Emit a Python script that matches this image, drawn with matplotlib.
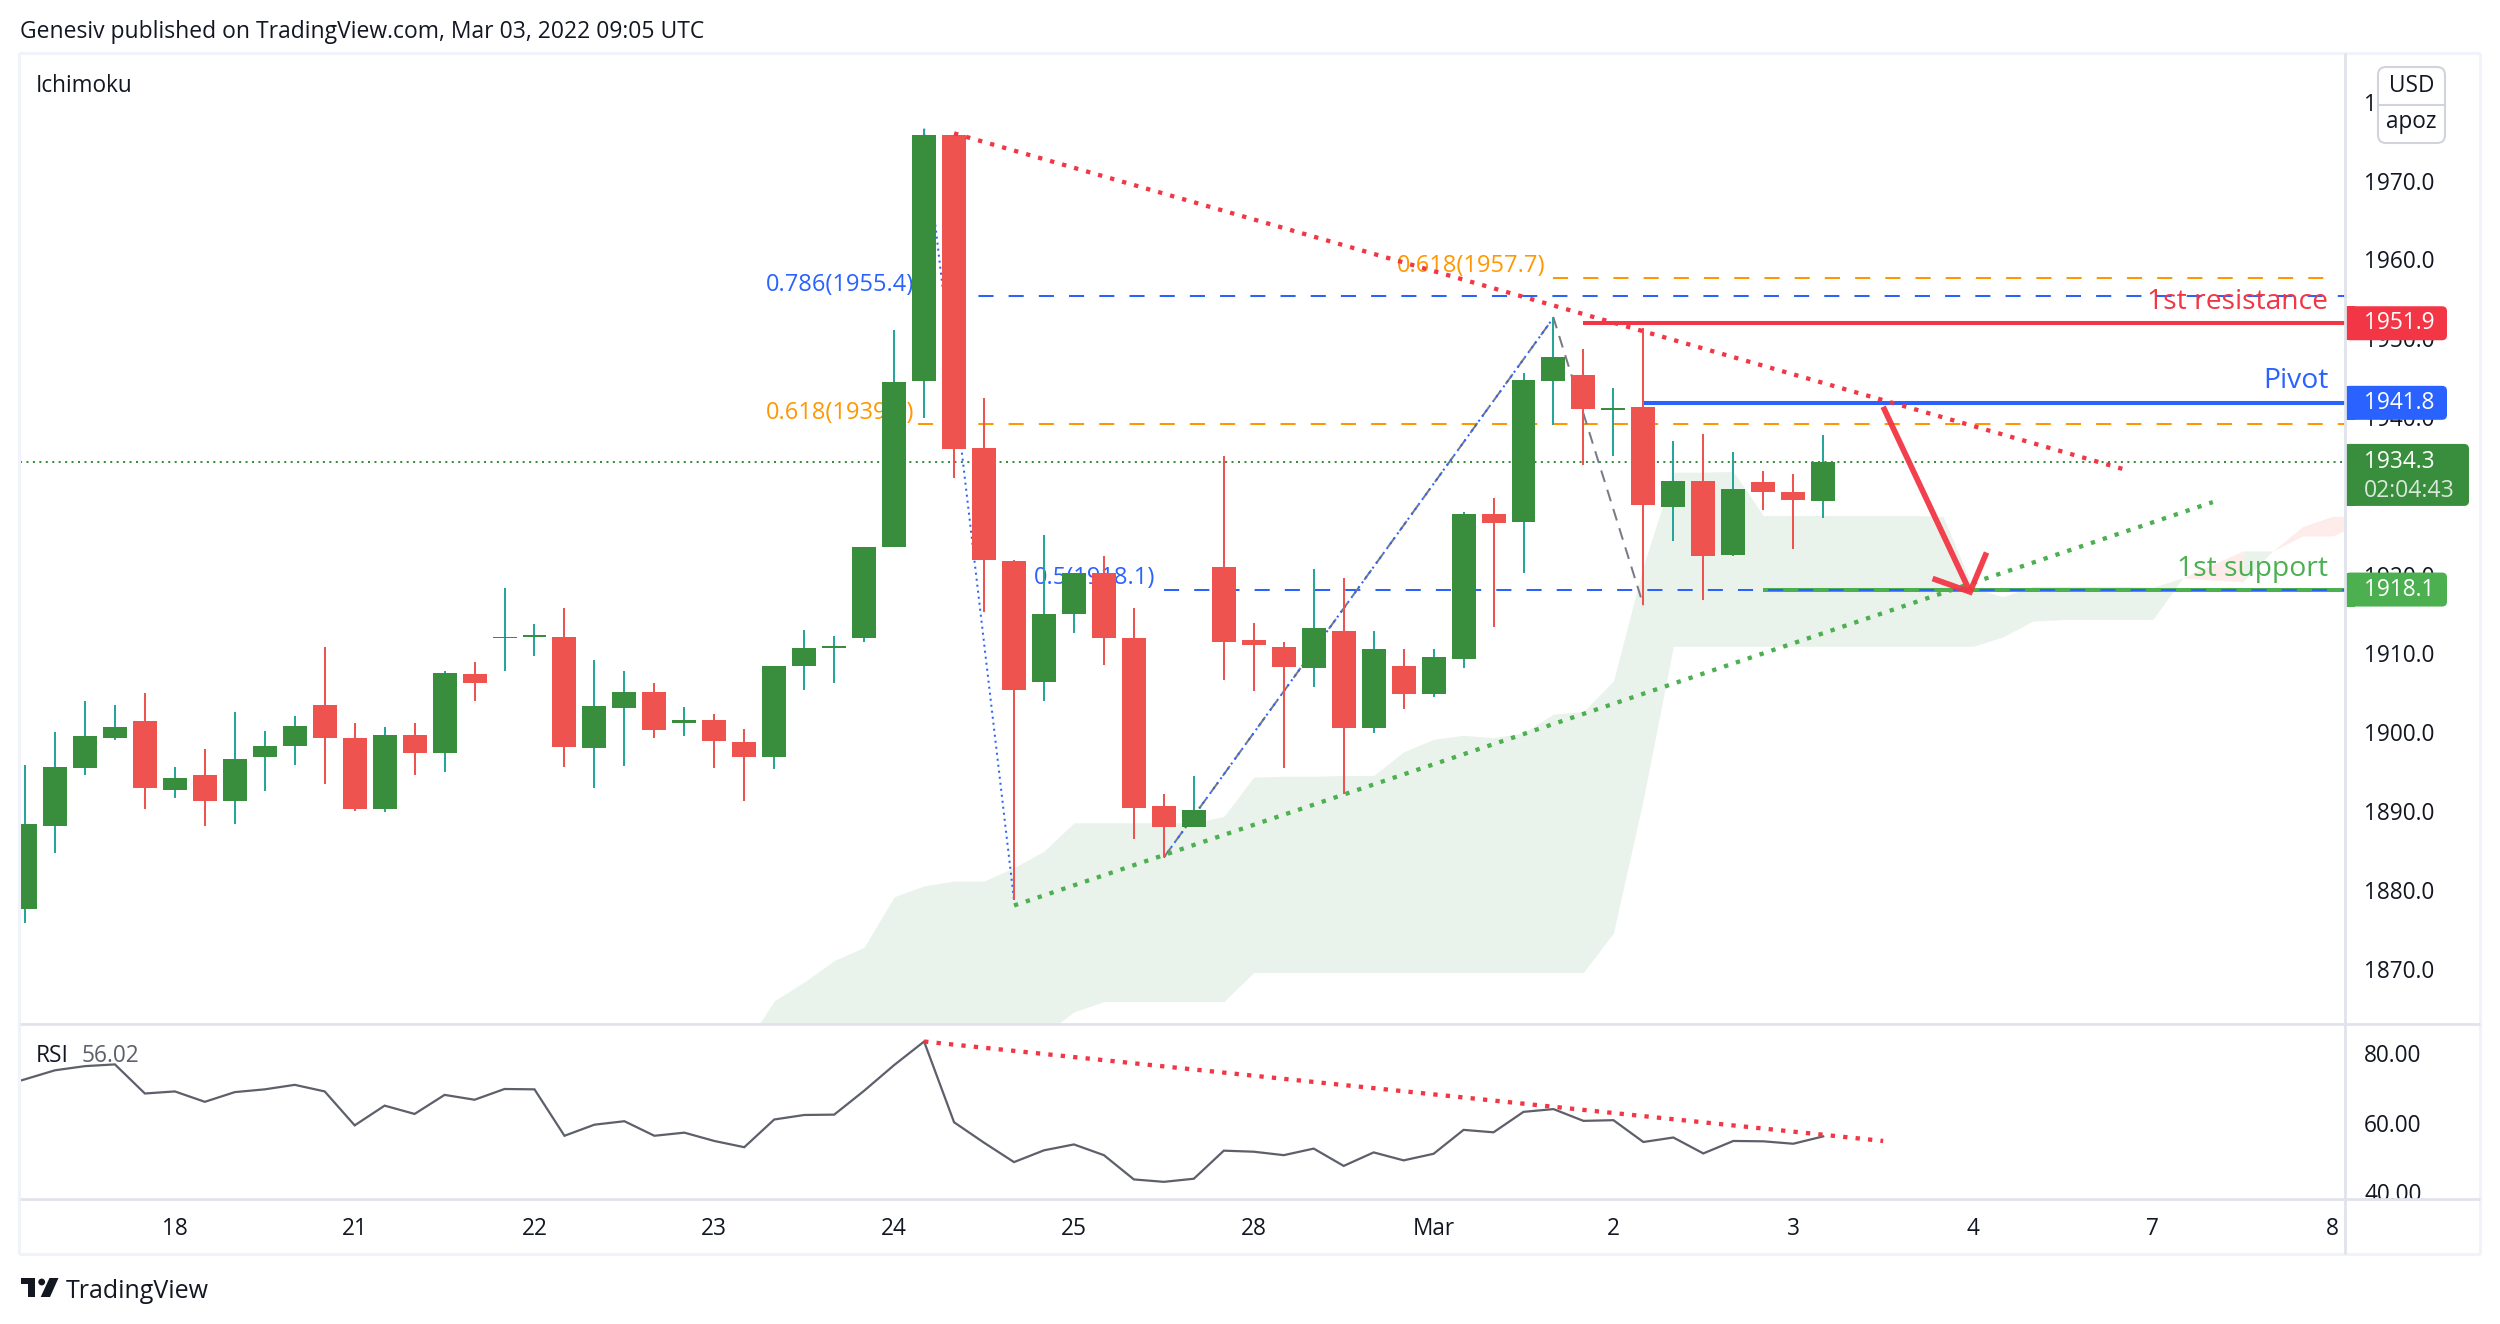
import matplotlib
matplotlib.use("Agg")
import matplotlib.pyplot as plt
from matplotlib.patches import FancyBboxPatch, Rectangle, Polygon, Circle
from matplotlib.transforms import Bbox

plt.rcParams['font.family'] = ['Open Sans', 'DejaVu Sans']

# ---------- data ----------
opens  = [1877.5,1888.1,1895.4,1899.3,1901.4,1892.6,1894.5,1891.2,1896.8,1898.2,1903.5,1899.3,1890.2,1899.7,1897.4,1907.4,
          1911.9,1912.1,1912.1,1898.0,1903.1,1905.1,1901.1,1901.5,1898.8,1896.8,1908.4,1910.7,1911.9,1923.5,1944.6,1975.8,
          1936.1,1921.7,1906.4,1915.0,1920.2,1912.0,1890.6,1887.9,1920.9,1911.7,1910.8,1908.2,1912.9,1900.5,1908.4,1904.8,
          1909.3,1927.7,1926.7,1944.6,1945.3,1940.9,1941.3,1928.6,1931.9,1922.5,1931.8,1930.5,1929.4]
closes = [1888.3,1895.6,1899.5,1900.7,1892.9,1894.2,1891.2,1896.6,1898.2,1900.8,1899.2,1890.3,1899.7,1897.4,1907.5,1906.2,
          1912.1,1912.3,1898.1,1903.3,1905.1,1900.3,1901.5,1898.9,1896.8,1908.4,1910.7,1910.9,1923.5,1944.5,1975.8,1936.0,
          1921.8,1905.3,1915.0,1920.2,1911.9,1890.4,1887.9,1890.1,1911.5,1911.0,1908.3,1913.2,1900.5,1910.6,1904.8,1909.6,
          1927.7,1926.6,1944.7,1947.6,1941.0,1941.1,1928.8,1931.9,1922.4,1930.8,1930.5,1929.5,1934.3]
highs  = [1895.8,1900.0,1904.0,1903.5,1905.0,1895.6,1897.9,1902.6,1900.2,1902.0,1910.8,1901.1,1900.7,1901.1,1907.8,1908.9,
          1918.3,1913.7,1915.8,1909.2,1907.7,1906.3,1903.2,1902.3,1900.4,1908.4,1913.0,1912.2,1923.5,1951.0,1976.6,1975.8,
          1942.4,1921.9,1925.0,1920.2,1922.3,1915.8,1892.2,1894.4,1935.1,1913.9,1911.5,1920.7,1919.6,1912.9,1910.6,1910.6,
          1927.9,1929.7,1945.6,1952.6,1948.6,1943.7,1951.3,1937.0,1937.9,1935.5,1933.2,1932.8,1937.7]
lows   = [1875.8,1884.6,1894.5,1899.0,1890.3,1891.6,1888.1,1888.4,1892.5,1895.8,1893.4,1890.0,1889.9,1894.5,1895.0,1904.0,
          1907.7,1909.7,1895.6,1892.9,1895.7,1899.3,1899.5,1895.4,1891.2,1895.3,1905.3,1906.3,1911.4,1923.5,1939.9,1932.3,
          1915.3,1878.7,1904.0,1912.6,1908.5,1886.4,1884.1,1887.9,1906.6,1905.2,1895.4,1905.7,1892.2,1899.9,1902.9,1904.5,
          1908.1,1913.3,1920.2,1939.0,1933.9,1935.0,1916.1,1924.2,1916.8,1922.3,1928.2,1923.2,1927.2]

# first value belongs to the bar just left of the pane
rsi_values = [70.0,72.5,75.1,76.3,76.8,68.4,69.0,66.0,68.8,69.6,70.9,69.0,59.2,64.9,62.5,68.0,66.6,69.7,69.6,56.2,59.4,60.4,56.2,
              57.1,54.7,52.9,60.9,62.2,62.3,69.2,76.6,83.4,60.1,54.2,48.6,52.0,53.7,50.6,43.6,42.9,43.8,51.9,51.6,50.6,52.5,
              47.5,51.4,49.1,51.0,57.9,57.2,63.1,63.9,60.5,60.7,54.4,55.7,51.1,54.7,54.6,53.9,56.02]

cloud_start = 24
cloud_upper = [1860.0,1865.9,1868.3,1871.0,1872.7,1879.1,1880.5,1881.1,1881.1,1882.8,1884.9,1888.5,1888.5,1888.5,1888.5,1888.5,
               1889.3,1894.3,1894.4,1894.4,1894.5,1894.5,1897.5,1899.1,1899.6,1899.3,1899.9,1902.3,1902.6,1906.5,1921.1,1933.0,
               1933.0,1933.1,1927.5,1927.5,1927.5,1927.5,1927.5,1927.5,1927.4,1918.3,1917.2,1918.5,1918.5,1918.5,1918.5,1918.4,
               1919.6,1921.3,1923.0,1923.0,1926.1,1927.4,1927.4]
cloud_lower = [1855.0,1856.0,1857.0,1857.5,1858.0,1858.0,1858.0,1859.0,1859.0,1860.0,1861.6,1864.5,1865.8,1865.8,1865.8,1865.8,
               1865.8,1869.5,1869.5,1869.5,1869.5,1869.5,1869.5,1869.5,1869.5,1869.5,1869.5,1869.5,1869.5,1874.5,1891.5,1910.9,
               1910.9,1910.9,1910.9,1910.9,1910.9,1910.9,1910.9,1910.9,1910.9,1910.9,1912.1,1914.1,1914.3,1914.3,1914.3,1914.3,
               1919.6,1919.3,1919.1,1923.0,1924.9,1924.9,1926.6]
cloud_runs = [(24, 72, '#eaf3eb'), (72, 74, '#feecea'), (74, 75, '#eaf3eb'), (75, 78, '#feecea')]

x_tick_pos    = [5, 11, 17, 23, 29, 35, 41, 47, 53, 59, 65, 71, 77]
x_tick_labels = ['18', '21', '22', '23', '24', '25', '28', 'Mar', '2', '3', '4', '7', '8']
price_ticks = [1870, 1880, 1890, 1900, 1910, 1920, 1930, 1940, 1950, 1960, 1970, 1980]
rsi_ticks = [40, 60, 80]

resistance_x, resistance_y = [31, 70], [1976.0, 1933.4]
support_x, support_y = [33, 73], [1878.0, 1929.2]
rsi_trend_x, rsi_trend_y = [30, 62], [83.4, 54.7]
fib1_x, fib1_y = [30, 33], [1976.6, 1878.7]
fib2_x, fib2_y = [38, 51, 54], [1884.1, 1952.6, 1916.1]
arrow_x, arrow_y = [62.0, 64.9], [1941.3, 1917.8]
head_x, head_y = [63.65, 64.9, 65.45], [1919.5, 1917.8, 1922.8]

last_price = 1934.3
level_r, level_p, level_s = 1951.9, 1941.8, 1918.1
fib_786, fib_618a, fib_618b, fib_5 = 1955.4, 1939.1, 1957.7, 1918.1

# ---------- colours ----------
UP, DOWN, WICK_UP = '#388e3c', '#ef5350', '#26a69a'
RED, BLUE, GREEN, ORANGE = '#f23645', '#2962ff', '#4caf50', '#ff9800'
INK, GRID = '#131722', '#e0e3eb'
FS = 16.3

W, H = 2500, 1324
fig = plt.figure(figsize=(W / 100, H / 100), dpi=100, facecolor='white')

def pane(x0, y0, x1, y1):
    return fig.add_axes([x0 / W, 1 - y1 / H, (x1 - x0) / W, (y1 - y0) / H])

PX0, PX1 = 20, 2345
main = pane(PX0, 53, PX1, 1024)
rsi = pane(PX0, 1024, PX1, 1199)
xlim = ((PX0 - 25) / 29.97, (PX1 - 25) / 29.97)
for a in (main, rsi):
    a.set_xlim(xlim)
    for s in a.spines.values():
        s.set_visible(False)
    a.yaxis.tick_right()
    a.tick_params(axis='y', length=0, pad=13.7, labelsize=FS, labelcolor=INK)
main.set_ylim(1862.96, 1986.2)
rsi.set_ylim(37.95, 88.46)

main.set_xticks([])
main.set_yticks(price_ticks)
main.set_yticklabels([f'{v:.1f}' for v in price_ticks])
rsi.set_xticks(x_tick_pos)
rsi.set_xticklabels(x_tick_labels)
rsi.tick_params(axis='x', length=0, pad=13, labelsize=FS, labelcolor=INK)
rsi.set_yticks(rsi_ticks)
rsi.set_yticklabels([f'{v:.2f}' for v in rsi_ticks])

# cloud, one polygon per colour run so no seams show
for b0, b1, c in cloud_runs:
    k0, k1 = b0 - cloud_start, b1 - cloud_start + 1
    main.fill_between(range(b0, b1 + 1), cloud_lower[k0:k1], cloud_upper[k0:k1], color=c, lw=0, zorder=1)

END = xlim[1]
# solid levels
main.hlines(level_r, 52, END, color=RED, lw=2.9, zorder=1.8)
main.hlines(level_p, 54, END, color=BLUE, lw=2.9, zorder=1.8)
main.hlines(level_s, 58, END, color=GREEN, lw=2.9, zorder=1.8)

# fib levels
dash = (0, (7.5, 7.5))
main.plot([29.8, END], [fib_786] * 2, color=BLUE, lw=1.45, ls=dash, zorder=2)
main.plot([29.8, END], [fib_618a] * 2, color=ORANGE, lw=1.45, ls=dash, zorder=2)
main.plot([51, 77], [fib_618b] * 2, color=ORANGE, lw=1.45, ls=dash, zorder=2)
main.plot([38, END], [fib_5] * 2, color=BLUE, lw=1.45, ls=dash, zorder=2)
main.plot([xlim[0], END], [last_price] * 2, color=UP, lw=1.45, ls=(0, (1, 2.2)), zorder=2)

def lab(text, i, v, color):
    main.annotate(text, xy=(i, v), xytext=(-6, 8), textcoords='offset points',
                  ha='right', va='center', color=color, fontsize=17, zorder=2.2)
lab('0.786(1955.4)', 29.95, fib_786, BLUE)
lab('0.618(1939.1)', 29.95, fib_618a, ORANGE)
lab('0.618(1957.7)', 51, fib_618b, ORANGE)
lab('0.5(1918.1)', 38, fib_5, BLUE)

# fib guides, under the candles
main.plot(fib1_x, fib1_y, color=BLUE, lw=1.45, ls=(0, (1, 2)), zorder=2)
main.plot(fib2_x, fib2_y, color='#787b86', lw=1.45, ls=(0, (6, 4)), zorder=2)
main.plot(fib2_x[:2], fib2_y[:2], color=BLUE, lw=1.45, ls=(0, (1, 2)), zorder=2.1)

# candles
xs = list(range(len(opens)))
for i in xs:
    up = closes[i] >= opens[i]
    main.vlines(i, lows[i], highs[i], color=WICK_UP if up else DOWN, lw=1.45, zorder=3)
    main.bar(i, abs(closes[i] - opens[i]), bottom=min(opens[i], closes[i]), width=0.8,
             color=UP if up else DOWN, lw=0, zorder=3.1)

# drawings
main.plot(resistance_x, resistance_y, color=RED, lw=3.1, ls=(0, (1, 1.9)), zorder=4)
main.plot(support_x, support_y, color=GREEN, lw=3.1, ls=(0, (1, 1.9)), zorder=4)
main.plot(arrow_x, arrow_y, color=RED, lw=4.1, zorder=5, solid_capstyle='butt', alpha=0.95)
main.plot(head_x, head_y, color=RED, lw=4.1, zorder=5, solid_joinstyle='miter', solid_capstyle='butt', alpha=0.95)

# right-hand text labels
main.annotate('1st resistance', xy=(END, level_r), xytext=(-12, 15.5), textcoords='offset points', ha='right', va='center',
              color=RED, fontsize=20.3, zorder=6)
main.annotate('Pivot', xy=(END, level_p), xytext=(-12, 16), textcoords='offset points', ha='right', va='center',
              color=BLUE, fontsize=20.3, zorder=6)
main.annotate('1st support', xy=(END, level_s), xytext=(-12, 15), textcoords='offset points', ha='right', va='center',
              color=GREEN, fontsize=20.3, zorder=6)

# RSI
rsi.plot(range(-1, len(rsi_values) - 1), rsi_values, color='#5d606b', lw=1.6, zorder=3, solid_joinstyle='miter')
rsi.plot(rsi_trend_x, rsi_trend_y, color=RED, lw=3.1, ls=(0, (1, 1.9)), zorder=4)

# cut the bottom RSI label at the pane edge
fig.canvas.draw()
for t in rsi.get_yticklabels():
    if t.get_text() == '40.00':
        t.set_clip_box(Bbox([[2345, H - 1199], [2480, H - 1024]]))
        t.set_clip_on(True)

# overlay in pixel coordinates
ov = fig.add_axes([0, 0, 1, 1], zorder=10)
ov.set_xlim(0, W)
ov.set_ylim(H, 0)
ov.axis('off')
ov.patch.set_visible(False)

def ypx(v):
    return H - main.transData.transform((0, v))[1]

# frame
for xx, yy, c, lw in [((19, 2480), (53, 53), '#f0f3fa', 2.2), ((19, 19), (53, 1254), '#f0f3fa', 2.2),
                      ((2480, 2480), (53, 1254), '#f0f3fa', 2.2), ((19, 2480), (1254, 1254), '#f0f3fa', 2.2),
                      ((2345, 2345), (53, 1254), GRID, 2.0), ((20, 2480), (1024, 1024), GRID, 2.0),
                      ((20, 2480), (1199, 1199), GRID, 2.0)]:
    ov.plot(xx, yy, color=c, lw=lw, solid_capstyle='butt')

def badge(v, text, color, top=17, bot=17, right=2447):
    y = ypx(v)
    ov.add_patch(FancyBboxPatch((2345 + 5, y - top + 5), right - 2345 - 10, top + bot - 10, boxstyle='round,pad=5,rounding_size=5',
                                fc=color, ec='none'))
    ov.add_patch(Rectangle((2345, y - top), 10, top + bot, fc=color, ec='none'))
    ov.text(2364, y, text, color='white', fontsize=FS, ha='left', va='center')
    return y

badge(level_r, f'{level_r:.1f}', RED)
badge(level_p, f'{level_p:.1f}', BLUE)
badge(level_s, f'{level_s:.1f}', GREEN)
yl = badge(last_price, f'{last_price:.1f}', UP, top=18, bot=44, right=2469)
ov.text(2364, yl + 29, '02:04:43', color='#d7e8d8', fontsize=FS + 0.3, ha='left', va='center')

# currency box
ov.add_patch(FancyBboxPatch((2385, 74), 53, 62, boxstyle='round,pad=7,rounding_size=8', fc='white', ec='#d1d4dc', lw=1.5))
ov.plot([2378, 2445], [105, 105], color='#d1d4dc', lw=1.5)
ov.text(2411.5, 86, 'USD', color=INK, fontsize=FS, ha='center', va='center')
ov.text(2411.5, 122, 'apoz', color=INK, fontsize=FS, ha='center', va='center')

# titles
ov.text(20, 38, 'Genesiv published on TradingView.com, Mar 03, 2022 09:05 UTC', color=INK, fontsize=16.5, ha='left', va='baseline')
ov.text(36, 92, 'Ichimoku', color=INK, fontsize=FS, ha='left', va='baseline')
ov.text(36, 1062, 'RSI', color=INK, fontsize=FS, ha='left', va='baseline')
ov.text(82, 1062, '56.02', color='#5d606b', fontsize=FS, ha='left', va='baseline')

# logo
ov.add_patch(Polygon([(20.7, 1278), (35, 1278), (35, 1297), (27.5, 1297), (27.5, 1284), (20.7, 1284)], fc=INK, ec='none'))
ov.add_patch(Circle((41.7, 1282), 3.4, fc=INK, ec='none'))
ov.add_patch(Polygon([(49.5, 1278), (58.5, 1278), (50, 1297), (40.7, 1297)], fc=INK, ec='none'))
ov.text(66, 1298, 'TradingView', color=INK, fontsize=18, ha='left', va='baseline', fontweight='medium')

fig.savefig('out.png', dpi=100)
